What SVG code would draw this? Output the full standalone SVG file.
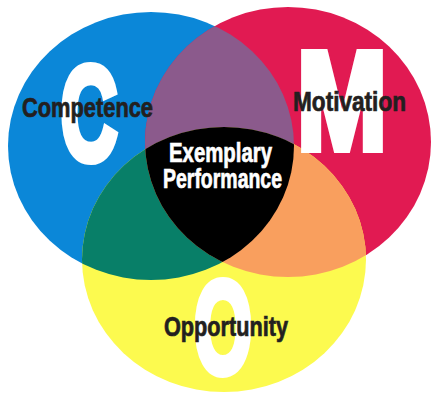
<svg xmlns="http://www.w3.org/2000/svg" width="432" height="398" viewBox="0 0 432 398">
  <style>
    .big { font-family: "Liberation Sans", Arial, sans-serif; font-weight: bold; fill: #ffffff; stroke: #ffffff; stroke-width: 8; stroke-linejoin: miter; stroke-miterlimit: 3; text-anchor: middle; }
    .lbl { font-family: "Liberation Sans", Arial, sans-serif; font-weight: bold; font-size: 27px; fill: #231f20; stroke: #231f20; stroke-width: 0.7; }
    .lbl-w { fill: #ffffff; stroke: #ffffff; text-anchor: middle; }
  </style>
  <defs>
    <ellipse id="shape-c" cx="151" cy="146" rx="143" ry="134"/>
    <ellipse id="shape-m" cx="288" cy="142" rx="143" ry="135"/>
    <ellipse id="shape-o" cx="224" cy="259.5" rx="142" ry="132.5"/>
    <clipPath id="clip-c"><use href="#shape-c"/></clipPath>
    <clipPath id="clip-m"><use href="#shape-m"/></clipPath>
  </defs>

  <rect width="432" height="398" fill="#ffffff"/>

  <!-- base circles -->
  <g id="competence">
    <use href="#shape-c" fill="#0b87d8"/>
  </g>
  <g id="motivation">
    <use href="#shape-m" fill="#e11a52"/>
  </g>
  <g id="opportunity">
    <use href="#shape-o" fill="#fcfa4f"/>
  </g>

  <!-- pairwise overlaps -->
  <g id="overlap-cm" clip-path="url(#clip-c)">
    <use href="#shape-m" fill="#8b5a8c"/>
  </g>
  <g id="overlap-co" clip-path="url(#clip-c)">
    <use href="#shape-o" fill="#087f68"/>
  </g>
  <g id="overlap-mo" clip-path="url(#clip-m)">
    <use href="#shape-o" fill="#f99f5e"/>
  </g>

  <!-- centre: all three -->
  <g id="exemplary-performance">
    <g clip-path="url(#clip-c)">
      <g clip-path="url(#clip-m)">
        <use href="#shape-o" fill="#000000"/>
      </g>
    </g>
    <text class="lbl lbl-w" x="220.5" y="162" textLength="103" lengthAdjust="spacingAndGlyphs">Exemplary</text>
    <text class="lbl lbl-w" x="222.5" y="188" textLength="119" lengthAdjust="spacingAndGlyphs">Performance</text>
  </g>

  <!-- initials and labels -->
  <g id="label-c">
    <text class="big" x="89" y="160" font-size="134" textLength="57" lengthAdjust="spacingAndGlyphs">C</text>
    <text class="lbl" x="22" y="117" textLength="131" lengthAdjust="spacingAndGlyphs">Competence</text>
  </g>
  <g id="label-m">
    <text class="big" x="342" y="149" font-size="140" textLength="90" lengthAdjust="spacingAndGlyphs">M</text>
    <text class="lbl" x="293" y="111" textLength="113" lengthAdjust="spacingAndGlyphs">Motivation</text>
  </g>
  <g id="label-o">
    <text class="big" x="223" y="373" font-size="131" textLength="58" lengthAdjust="spacingAndGlyphs">O</text>
    <text class="lbl" x="164" y="336" textLength="124" lengthAdjust="spacingAndGlyphs">Opportunity</text>
  </g>
</svg>
